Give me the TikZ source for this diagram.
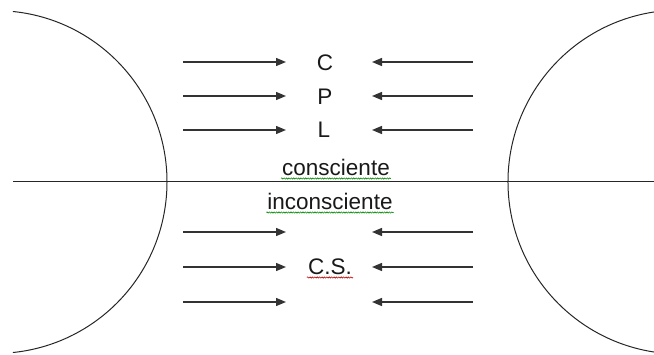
\documentclass[tikz,border=0pt]{standalone}
\usepackage{fontspec}
\setmainfont{Liberation Sans}
\usetikzlibrary{arrows.meta, decorations.pathmorphing}
\tikzset{
  ar/.style = {-{Triangle[length=10pt,width=8pt]}, line width=1.4pt, draw=black!80},
  bd/.style = {draw=black!85, line width=1pt},
  tx/.style = {font=\fontsize{22.5}{26}\selectfont, text=black!90, inner sep=1pt, anchor=base},
  sp/.style = {decorate, decoration={snake, amplitude=0.6pt, segment length=2.4pt}, line width=0.6pt}
}

\begin{document}
\begin{tikzpicture}[x=1pt, y=1pt]
  \useasboundingbox (0,0) rectangle (654,354);
  \begin{scope}
    \clip (0,0) rectangle (654,354);
    \draw [bd] (-4.4,172) ++(84.2:171.4pt) arc [start angle=84.2, end angle=-84.2, radius=171.4pt];
    \draw [bd] (680,172) ++(98.7:172pt) arc [start angle=98.7, end angle=261.3, radius=172pt];
    \coordinate (hl) at (13,172);
    \coordinate (hr) at (654,172);
    \draw [bd] (hl) -- (hr);
  \end{scope}
  % arrows
  \foreach \y [count=\i] in {292,258,224,122,87,52} {
    \coordinate (a\i) at (183,\y);
    \coordinate (b\i) at (286,\y);
    \coordinate (c\i) at (473,\y);
    \coordinate (d\i) at (372,\y);
    \draw [ar] (a\i) -- (b\i);
    \draw [ar] (c\i) -- (d\i);
  }
  % labels
  \node [tx] (lc) at (325,283) {C};
  \node [tx] (lp) at (325,249) {P};
  \node [tx] (ll) at (324,216) {L};
  \node [tx] (cs) at (336,178) {consciente};
  \node [tx] (ic) at (330,144) {inconsciente};
  \node [tx] (lcs) at (330,79) {C.S.};
  \draw [sp, green!55!black] ([yshift=-2.5pt]cs.base west) -- ([yshift=-2.5pt]cs.base east);
  \draw [sp, green!55!black] ([yshift=-2.5pt]ic.base west) -- ([yshift=-2.5pt]ic.base east);
  \draw [sp, red!75!black] ([yshift=-2.5pt]lcs.base west) -- ([yshift=-2.5pt]lcs.base east);
\end{tikzpicture}
\end{document}
